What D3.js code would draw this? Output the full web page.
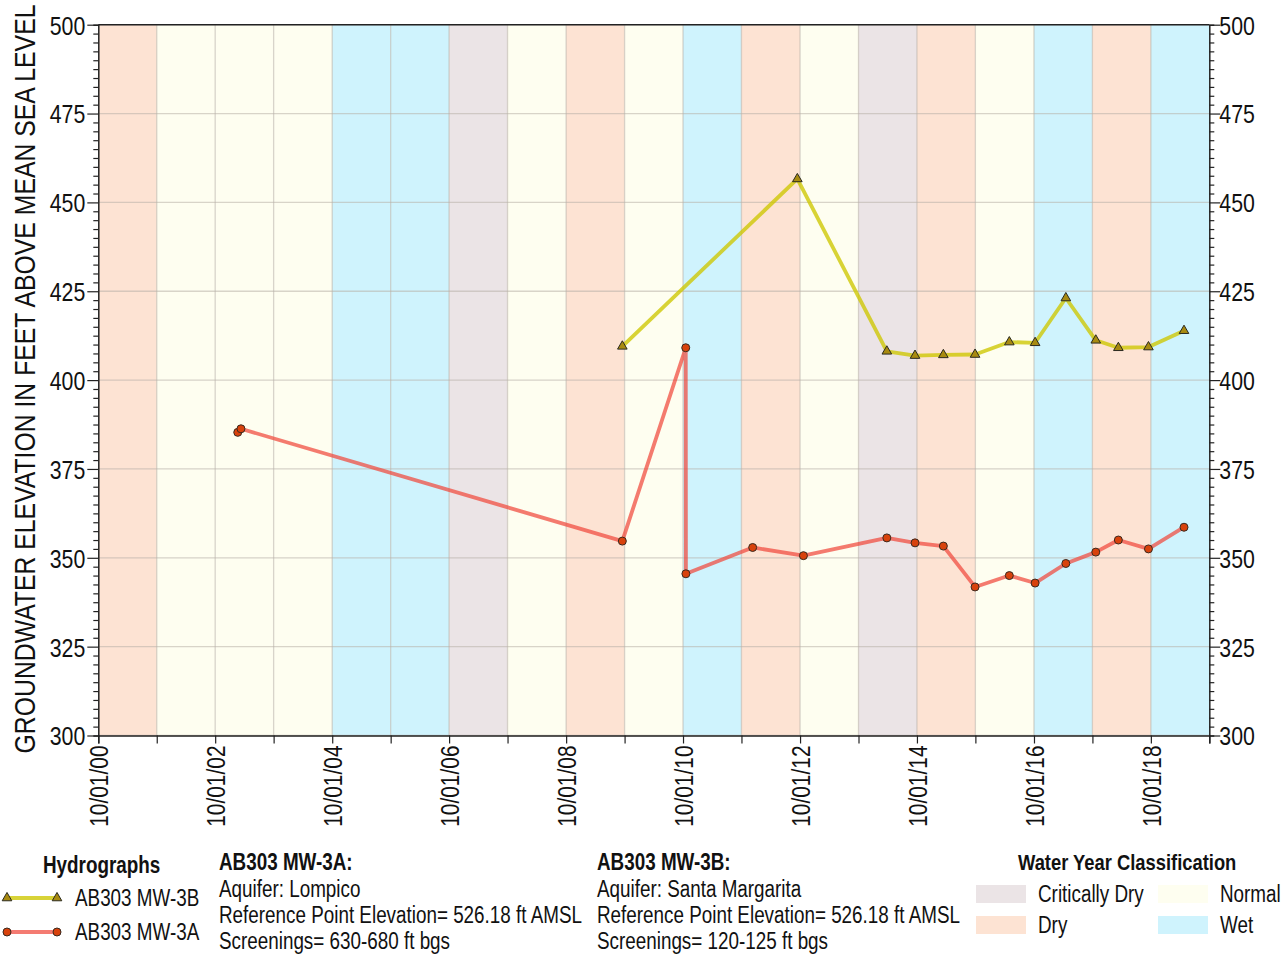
<!DOCTYPE html>
<html><head><meta charset="utf-8">
<script src="https://cdn.jsdelivr.net/npm/d3@7"></script>
<style>
html,body{margin:0;padding:0;background:#fff;}
svg text{font-family:"Liberation Sans",Arial,sans-serif;fill:#111;}
</style></head>
<body><svg id="c" width="1282" height="956"></svg>
<script>
// Water years (start year of water year beginning Oct 1) and their classification
const waterYearStarts = [2000,2001,2002,2003,2004,2005,2006,2007,2008,2009,2010,2011,2012,2013,2014,2015,2016,2017,2018];
const waterYearTypes = ["Dry","Normal","Normal","Normal","Wet","Wet","Critically Dry","Normal","Dry","Normal","Wet","Dry","Normal","Critically Dry","Dry","Normal","Wet","Dry","Wet"];

// AB303 MW-3B (Santa Margarita)
const mw3bDates = ["2009-09-17","2012-09-14","2014-03-27","2014-09-19","2015-03-15","2015-09-29","2016-04-30","2016-10-08","2017-04-18","2017-10-22","2018-03-12","2018-09-16","2019-04-26"];
const mw3bValues = [409.5,456.6,408.1,406.9,407.1,407.2,410.7,410.5,423.1,411.2,409.1,409.3,413.9];

// AB303 MW-3A (Lompico)
const mw3aDates = ["2003-02-19","2003-03-11","2009-09-17","2010-10-18","2010-10-19","2011-12-10","2012-10-22","2014-03-27","2014-09-19","2015-03-15","2015-09-29","2016-04-30","2016-10-08","2017-04-18","2017-10-22","2018-03-12","2018-09-16","2019-04-26"];
const mw3aValues = [385.3,386.3,354.7,409.1,345.5,352.9,350.6,355.6,354.2,353.3,341.8,345.0,342.9,348.4,351.6,355.0,352.5,358.6];

const yTicks = [300,325,350,375,400,425,450,475,500];
const xLabelYears = [2000,2002,2004,2006,2008,2010,2012,2014,2016,2018];

const classColors = {"Critically Dry":"#ebe4e6","Dry":"#fde3d3","Normal":"#fefef0","Wet":"#cff3fd"};
const legendClasses = ["Critically Dry","Normal","Dry","Wet"];

const K = 0.82; // horizontal condensing to mimic a narrow typeface
const svg = d3.select("#c");
const L = 98.3, R = 1209.3, T = 24.7, B = 735.5;
const parse = d3.utcParse("%Y-%m-%d");
const x = d3.scaleUtc().domain([Date.UTC(2000,9,1), Date.UTC(2019,9,1)]).range([L,R]);
const y = d3.scaleLinear().domain([300,500]).range([B,T]);

function ctext(parent, px, py, str, size, bold, anchor){
  return parent.append("text").attr("transform",`translate(${px},${py}) scale(${K},1)`)
    .attr("text-anchor", anchor || "start")
    .style("font-size", size+"px").style("font-weight", bold ? "bold" : "normal").text(str);
}

// bands
svg.append("g").selectAll("rect").data(waterYearStarts).join("rect")
  .attr("x", d => x(Date.UTC(d,9,1)))
  .attr("width", d => x(Date.UTC(d+1,9,1)) - x(Date.UTC(d,9,1)))
  .attr("y", T).attr("height", B-T)
  .attr("fill", (d,i) => classColors[waterYearTypes[i]]);

// grid
const grid = svg.append("g").attr("stroke","#b8b0a8").attr("stroke-opacity",0.55).attr("stroke-width",1.3);
grid.selectAll("line.h").data(yTicks).join("line").attr("class","h")
  .attr("x1",L).attr("x2",R).attr("y1",d=>y(d)).attr("y2",d=>y(d));
grid.selectAll("line.v").data(waterYearStarts.slice(1)).join("line").attr("class","v")
  .attr("x1",d=>x(Date.UTC(d,9,1))).attr("x2",d=>x(Date.UTC(d,9,1))).attr("y1",T).attr("y2",B);

// top border
svg.append("line").attr("x1",L).attr("x2",R).attr("y1",T).attr("y2",T).attr("stroke","#222").attr("stroke-width",1.5);

// axes
const minor = d3.range(300,500.01,2.5);
function styleAxis(g){
  g.select(".domain").attr("stroke","#222").attr("stroke-width",1.5);
  g.selectAll(".tick line").attr("stroke","#222").attr("stroke-width",1.2);
  g.selectAll("text").style("font-size","26px").attr("fill","#111");
}
const yl = svg.append("g").attr("transform",`translate(${L},0)`)
  .call(d3.axisLeft(y).tickValues(minor).tickSize(5).tickFormat(d => yTicks.includes(d) ? d : ""));
yl.selectAll(".tick").filter(d=>yTicks.includes(d)).select("line").attr("x2",-11);
styleAxis(yl);
yl.selectAll(".tick text").attr("transform",`scale(${K},1)`).attr("x",-13/K).attr("dy","0.36em");
const yr = svg.append("g").attr("transform",`translate(${R},0)`)
  .call(d3.axisRight(y).tickValues(minor).tickSize(5).tickFormat(d => yTicks.includes(d) ? d : ""));
yr.selectAll(".tick").filter(d=>yTicks.includes(d)).select("line").attr("x2",11);
styleAxis(yr);
yr.selectAll(".tick text").attr("transform",`scale(${K},1)`).attr("x",10/K).attr("dy","0.36em");

const xTickDates = waterYearStarts.concat([2019]).map(d=>new Date(Date.UTC(d,9,1)));
const xa = svg.append("g").attr("transform",`translate(0,${B})`)
  .call(d3.axisBottom(x).tickValues(xTickDates).tickSize(8)
    .tickFormat(d => xLabelYears.includes(d.getUTCFullYear()) ? d3.utcFormat("%m/%d/%y")(d) : ""));
styleAxis(xa);
xa.selectAll(".tick text").style("font-size","25.5px")
  .attr("transform",`rotate(-90) scale(${K},1)`).attr("text-anchor","end").attr("x",-10/K).attr("y",0).attr("dy","0.36em");

// y title
svg.append("text").attr("transform","translate(35,379) rotate(-90) scale(0.84,1)").attr("text-anchor","middle")
  .style("font-size","29.5px").text("GROUNDWATER ELEVATION IN FEET ABOVE MEAN SEA LEVEL");

// series
const s3b = mw3bDates.map((d,i)=>({t:parse(d),v:mw3bValues[i]}));
const s3a = mw3aDates.map((d,i)=>({t:parse(d),v:mw3aValues[i]}));
const line = d3.line().x(d=>x(d.t)).y(d=>y(d.v));
const c3b = "#cdc600", c3a = "#f0483c";
svg.append("path").datum(s3b).attr("d",line).attr("fill","none").attr("stroke",c3b).attr("stroke-opacity",0.78).attr("stroke-width",3.8).attr("stroke-linejoin","round");
svg.append("path").datum(s3a).attr("d",line).attr("fill","none").attr("stroke",c3a).attr("stroke-opacity",0.72).attr("stroke-width",3.8).attr("stroke-linejoin","round");
const tri = d3.symbol().type(d3.symbolTriangle).size(40);
svg.append("g").selectAll("path").data(s3b).join("path")
  .attr("d",tri).attr("transform",d=>`translate(${x(d.t)},${y(d.v)})`)
  .attr("fill","#a88a10").attr("stroke","#2a2a20").attr("stroke-width",1);
svg.append("g").selectAll("circle").data(s3a).join("circle")
  .attr("cx",d=>x(d.t)).attr("cy",d=>y(d.v)).attr("r",4)
  .attr("fill","#d8420c").attr("stroke","#3a2a20").attr("stroke-width",1);

// legend: hydrographs
const lg = svg.append("g");
ctext(lg, 43, 873, "Hydrographs", 23, true);
const legSeries = [{name:"AB303 MW-3B",y:898,c:c3b,op:0.78,m:"tri"},{name:"AB303 MW-3A",y:932,c:c3a,op:0.72,m:"circ"}];
legSeries.forEach(s=>{
  lg.append("line").attr("x1",7).attr("x2",57).attr("y1",s.y).attr("y2",s.y).attr("stroke",s.c).attr("stroke-opacity",s.op).attr("stroke-width",3.8);
  [7,57].forEach(px=>{
    if(s.m==="tri") lg.append("path").attr("d",tri).attr("transform",`translate(${px},${s.y})`).attr("fill","#a88a10").attr("stroke","#2a2a20");
    else lg.append("circle").attr("cx",px).attr("cy",s.y).attr("r",4).attr("fill","#d8420c").attr("stroke","#3a2a20");
  });
  ctext(lg, 75, s.y+8, s.name, 23);
});

// well info
const infoA = ["Aquifer: Lompico","Reference Point Elevation= 526.18 ft AMSL","Screenings= 630-680 ft bgs"];
const infoB = ["Aquifer: Santa Margarita","Reference Point Elevation= 526.18 ft AMSL","Screenings= 120-125 ft bgs"];
[[219,"AB303 MW-3A:",infoA],[597,"AB303 MW-3B:",infoB]].forEach(([px,title,lines])=>{
  ctext(svg, px, 870, title, 23, true);
  lines.forEach((t,i)=>ctext(svg, px, 897+i*26, t, 23));
});

// water year legend
ctext(svg, 1018, 870, "Water Year Classification", 22.4, true);
const pos = [[976,885],[1158,885],[976,916],[1158,916]];
legendClasses.forEach((c,i)=>{
  const [px,py] = pos[i];
  svg.append("rect").attr("x",px).attr("y",py).attr("width",50).attr("height",18).attr("fill",classColors[c]);
  ctext(svg, px+62, py+17, c, 23);
});
</script></body></html>
